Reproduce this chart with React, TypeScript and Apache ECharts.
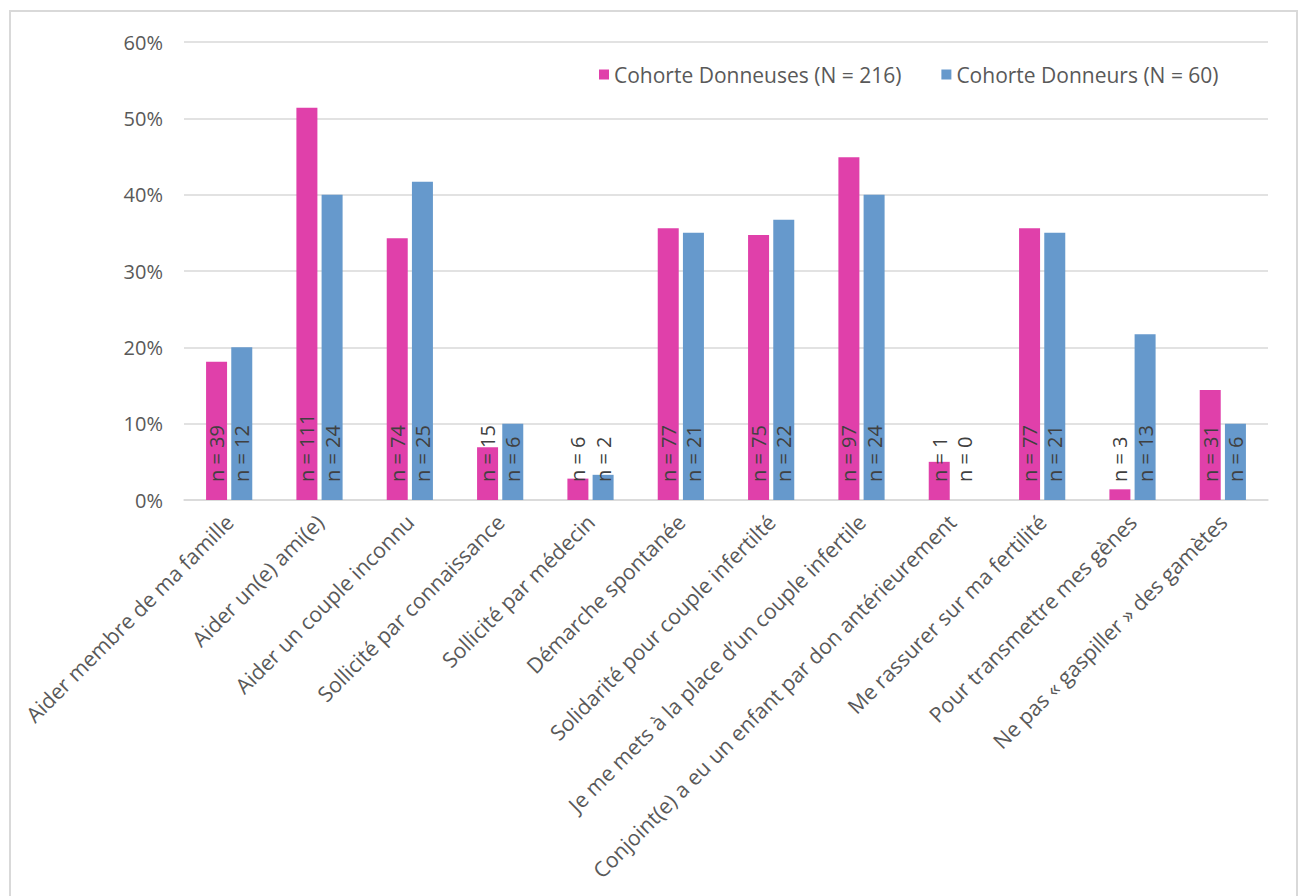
import React, { useEffect, useRef } from "react";
import * as echarts from "echarts";

const categories = [
  "Aider membre de ma famille",
  "Aider un(e) ami(e)",
  "Aider un couple inconnu",
  "Sollicité par connaissance",
  "Sollicité par médecin",
  "Démarche spontanée",
  "Solidarité pour couple infertilté",
  "Je me mets à la place d’un couple infertile",
  "Conjoint(e) a eu un enfant par don antérieurement",
  "Me rassurer sur ma fertilité",
  "Pour transmettre mes gènes",
  "Ne pas « gaspiller » des gamètes",
];

const donneusesPct = [18.1, 51.4, 34.3, 6.9, 2.8, 35.6, 34.7, 44.9, 5.0, 35.6, 1.4, 14.4];
const donneursPct = [20.0, 40.0, 41.7, 10.0, 3.3, 35.0, 36.7, 40.0, 0, 35.0, 21.7, 10.0];
const donneusesN = [39, 111, 74, 15, 6, 77, 75, 97, 1, 77, 3, 31];
const donneursN = [12, 24, 25, 6, 2, 21, 22, 24, 0, 21, 13, 6];
const seriesNames = ["Cohorte Donneuses (N = 216)", "Cohorte Donneurs (N = 60)"];

const FONT = "'Open Sans', sans-serif";

export default function App() {
  const ref = useRef<HTMLDivElement>(null);
  useEffect(() => {
    if (!ref.current) return;
    const chart = echarts.init(ref.current, null, { renderer: "svg" });
    const mkLabel = (ns: number[]) => ({
      show: true,
      position: "insideBottom",
      distance: 18,
      rotate: 90,
      align: "left",
      verticalAlign: "middle",
      fontFamily: FONT,
      fontSize: 20,
      color: "#404040",
      formatter: (p: any) => "n = " + ns[p.dataIndex],
    });
    chart.setOption({
      animation: false,
      backgroundColor: "#ffffff",
      textStyle: { fontFamily: FONT },
      graphic: [
        {
          type: "rect",
          shape: { x: 10, y: 11, width: 1287, height: 900 },
          style: { fill: "none", stroke: "#d9d9d9", lineWidth: 2 },
          silent: true,
        },
      ],
      legend: {
        left: 594,
        top: 59,
        itemWidth: 10,
        itemHeight: 10,
        itemGap: 40,
        icon: "rect",
        textStyle: { fontFamily: FONT, fontSize: 21, color: "#595959" },
        data: seriesNames,
      },
      grid: { left: 184, right: 33, top: 42, bottom: 396, containLabel: false },
      xAxis: {
        type: "category",
        data: categories,
        axisLine: { lineStyle: { color: "#d9d9d9", width: 1.5 } },
        axisTick: { show: false },
        axisLabel: {
          interval: 0,
          rotate: 45,
          margin: 18,
          fontFamily: FONT,
          fontSize: 21.3,
          color: "#595959",
        },
      },
      yAxis: {
        type: "value",
        min: 0,
        max: 60,
        interval: 10,
        axisLine: { show: false },
        axisTick: { show: false },
        splitLine: { lineStyle: { color: "#d9d9d9", width: 1.5 } },
        axisLabel: {
          formatter: "{value}%",
          margin: 21,
          fontFamily: FONT,
          fontSize: 20,
          color: "#595959",
        },
      },
      series: [
        {
          name: seriesNames[0],
          type: "bar",
          data: donneusesPct,
          barWidth: 21,
          barGap: "20%",
          itemStyle: { color: "#e040aa" },
          label: mkLabel(donneusesN),
        },
        {
          name: seriesNames[1],
          type: "bar",
          data: donneursPct,
          barWidth: 21,
          barGap: "20%",
          itemStyle: { color: "#6699cc" },
          label: mkLabel(donneursN),
        },
      ],
    });
    return () => chart.dispose();
  }, []);
  return (
    <div
      ref={ref}
      style={{ position: "absolute", left: 0, top: 0, width: 1301, height: 896 }}
    />
  );
}
